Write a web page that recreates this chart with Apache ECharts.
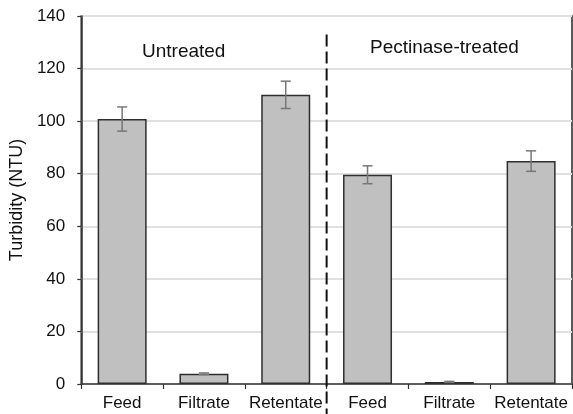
<!DOCTYPE html>
<html>
<head>
<meta charset="utf-8">
<script src="https://cdn.jsdelivr.net/npm/echarts@6/dist/echarts.min.js"></script>
<style>
  html, body { margin: 0; padding: 0; background: #fff; }
  #chart { width: 573px; height: 414px; }
</style>
</head>
<body>
<div id="chart"></div>
<script>
// Sample categories, left group untreated, right group pectinase-treated
var categories = ['Feed', 'Filtrate', 'Retentate', 'Feed', 'Filtrate', 'Retentate'];
var untreatedValues = [100.8, 3.9, 110];
var treatedValues = [79.6, 0.8, 84.8];
var untreatedErrors = [4.6, 0.3, 5.2];
var treatedErrors = [3.4, 0.2, 3.9];
var groupLabels = ['Untreated', 'Pectinase-treated'];
var yTicks = { min: 0, max: 140, interval: 20 };
var dividerTop = 133; // upper end of the group divider, in NTU

var values = untreatedValues.concat(treatedValues);
var errors = untreatedErrors.concat(treatedErrors);
var errorData = values.map(function (v, i) { return [i, v - errors[i], v + errors[i]]; });

var FONT = 'Liberation Sans, Arial, sans-serif';
var chart = echarts.init(document.getElementById('chart'), null, { renderer: 'canvas' });

chart.setOption({
  animation: false,
  backgroundColor: '#fff',
  grid: {
    left: 79, right: 1, top: 16, bottom: 30,
    show: true, borderColor: '#333', borderWidth: 1.6
  },
  xAxis: {
    type: 'category',
    data: categories,
    axisLine: { lineStyle: { color: '#333', width: 1.5 } },
    axisTick: { show: true, length: 5, lineStyle: { color: '#333', width: 1.2 } },
    axisLabel: { color: '#111', fontSize: 17, fontFamily: FONT, margin: 11, interval: 0 },
    splitLine: { show: false }
  },
  yAxis: {
    type: 'value',
    min: yTicks.min, max: yTicks.max, interval: yTicks.interval,
    name: 'Turbidity (NTU)',
    nameLocation: 'middle',
    nameGap: 50,
    nameTextStyle: { color: '#111', fontSize: 18, fontFamily: FONT },
    axisLine: { show: true, lineStyle: { color: '#333', width: 1.5 } },
    axisTick: { show: true, length: 4, lineStyle: { color: '#333', width: 1.2 } },
    axisLabel: { color: '#111', fontSize: 17, fontFamily: FONT, margin: 16 },
    splitLine: { show: true, lineStyle: { color: '#e0e0e0', width: 2 } }
  },
  graphic: [
    { type: 'text', left: 142, top: 42, style: { text: groupLabels[0], fill: '#111', font: '19px ' + FONT } },
    { type: 'text', left: 370, top: 38, style: { text: groupLabels[1], fill: '#111', font: '19px ' + FONT } }
  ],
  series: [
    {
      type: 'bar',
      data: values,
      barWidth: 49,
      itemStyle: { color: '#c0c0c0', borderColor: '#2e2e2e', borderWidth: 1.5 },
      z: 2
    },
    {
      // error bars: vertical whisker with end caps
      type: 'custom',
      data: errorData,
      z: 3,
      renderItem: function (params, api) {
        var x = api.value(0);
        var lo = api.coord([x, api.value(1)]);
        var hi = api.coord([x, api.value(2)]);
        var half = 5;
        var style = { stroke: '#777', lineWidth: 1.5 };
        return {
          type: 'group',
          children: [
            { type: 'line', shape: { x1: hi[0], y1: hi[1], x2: lo[0], y2: lo[1] }, style: style },
            { type: 'line', shape: { x1: hi[0] - half, y1: hi[1], x2: hi[0] + half, y2: hi[1] }, style: style },
            { type: 'line', shape: { x1: lo[0] - half, y1: lo[1], x2: lo[0] + half, y2: lo[1] }, style: style }
          ]
        };
      }
    },
    {
      // dashed divider between the two sample groups
      type: 'custom',
      data: [[untreatedValues.length - 1, dividerTop]],
      z: 4,
      clip: false,
      renderItem: function (params, api) {
        var i = api.value(0);
        var a = api.coord([i, 0]);
        var b = api.coord([i + 1, 0]);
        var top = api.coord([i, api.value(1)]);
        var x = (a[0] + b[0]) / 2;
        return {
          type: 'line',
          shape: { x1: x, y1: top[1], x2: x, y2: api.getHeight() },
          style: { stroke: '#111', lineWidth: 2, lineDash: [12, 5] }
        };
      }
    }
  ]
});
</script>
</body>
</html>
